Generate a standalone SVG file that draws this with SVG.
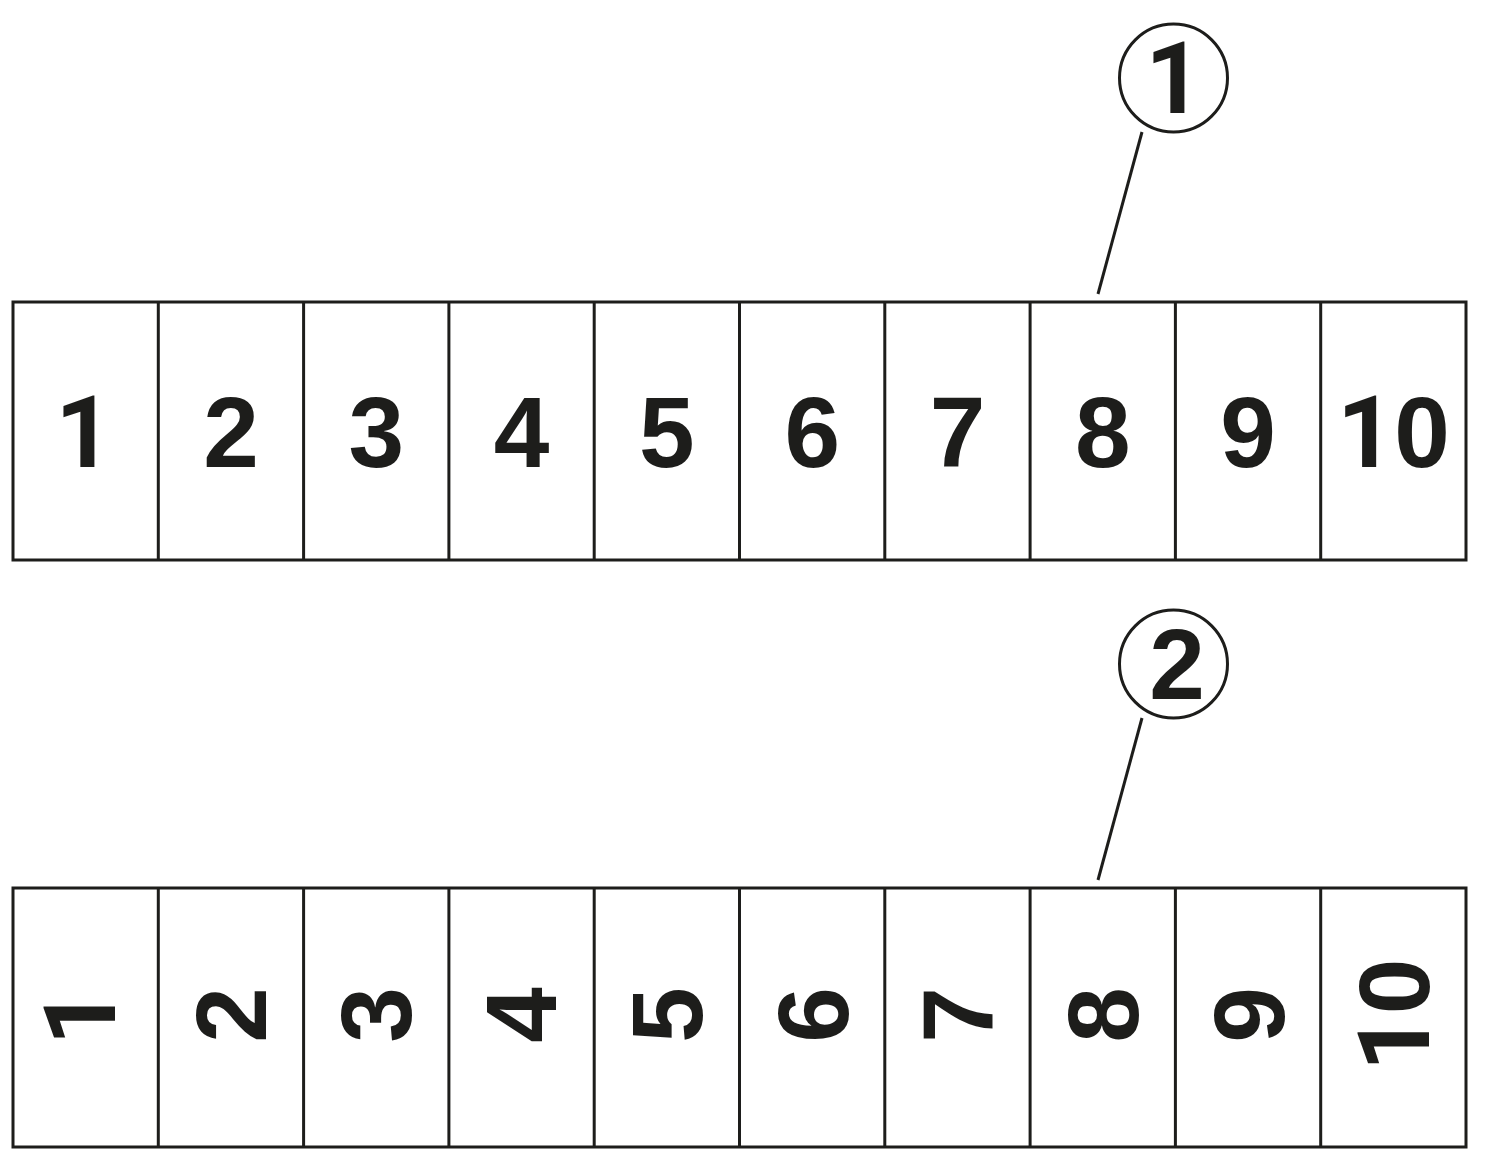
<svg xmlns="http://www.w3.org/2000/svg" width="1500" height="1172" viewBox="0 0 1500 1172">
<style>
.ln{fill:none;stroke:#1d1d1b;stroke-width:3}
.dg{font-family:"Liberation Sans",Arial,sans-serif;font-weight:bold;font-size:100px;fill:#1d1d1b;text-anchor:middle}
.one{font-family:Roboto,"Liberation Sans",sans-serif;font-weight:bold}
</style>
<rect width="1500" height="1172" fill="#ffffff"/>
<g id="strip1">
<rect class="ln" x="13" y="302" width="1453" height="258"/>
<path class="ln" d="M158.3 302V560M303.6 302V560M448.9 302V560M594.2 302V560M739.5 302V560M884.8 302V560M1030.1 302V560M1175.4 302V560M1320.7 302V560"/>
<text class="dg one" x="84" y="467">1</text>
<text class="dg" x="231" y="467">2</text>
<text class="dg" x="376.3" y="467">3</text>
<text class="dg" x="521.6" y="467">4</text>
<text class="dg" x="666.9" y="467">5</text>
<text class="dg" x="812.2" y="467">6</text>
<text class="dg" x="957.5" y="467">7</text>
<text class="dg" x="1102.8" y="467">8</text>
<text class="dg" x="1248.1" y="467">9</text>
<text class="dg" x="1393.4" y="467"><tspan class="one">1</tspan>0</text>
</g>
<g id="strip2">
<rect class="ln" x="13" y="888" width="1453" height="259"/>
<path class="ln" d="M158.3 888V1147M303.6 888V1147M448.9 888V1147M594.2 888V1147M739.5 888V1147M884.8 888V1147M1030.1 888V1147M1175.4 888V1147M1320.7 888V1147"/>
<text class="dg one" transform="translate(79,1017) rotate(-90)" x="0" y="35.5">1</text>
<text class="dg" transform="translate(230,1015) rotate(-90)" x="0" y="35.5">2</text>
<text class="dg" transform="translate(375.3,1015) rotate(-90)" x="0" y="35.5">3</text>
<text class="dg" transform="translate(520.6,1015) rotate(-90)" x="0" y="35.5">4</text>
<text class="dg" transform="translate(666.9,1015) rotate(-90)" x="0" y="35.5">5</text>
<text class="dg" transform="translate(812.2,1015) rotate(-90)" x="0" y="35.5">6</text>
<text class="dg" transform="translate(957.5,1015) rotate(-90)" x="0" y="35.5">7</text>
<text class="dg" transform="translate(1102.8,1015) rotate(-90)" x="0" y="35.5">8</text>
<text class="dg" transform="translate(1248.1,1015) rotate(-90)" x="0" y="35.5">9</text>
<text class="dg" transform="translate(1393,1015) rotate(-90)" x="0" y="35.5"><tspan class="one">1</tspan>0</text>
</g>
<g id="callout1">
<circle class="ln" cx="1173.5" cy="78" r="54"/>
<text class="dg one" x="1174" y="113">1</text>
</g>
<g id="callout2">
<circle class="ln" cx="1173.5" cy="664" r="54"/>
<text class="dg" x="1177" y="699">2</text>
</g>
<g id="connectors">
<line class="ln" x1="1142" y1="132" x2="1098" y2="294"/>
<line class="ln" x1="1142" y1="718" x2="1098" y2="880"/>
</g>
</svg>
